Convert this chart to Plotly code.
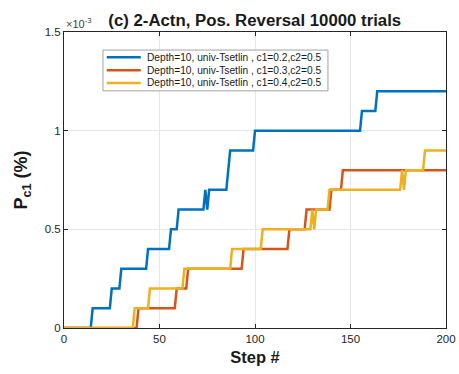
import plotly.graph_objects as go

# Detection probability P_c1 (in units of 1e-3) versus step, one series per c1 setting.
# Each list gives the vertices of the trace; values hold between listed steps.
steps_c1_02 = [0, 14, 15, 24, 25, 29, 30, 43, 44, 55, 56, 59, 60, 73, 74, 75, 76, 85, 87, 99, 100, 155, 156, 163, 164, 200]
pc1_c1_02 = [0, 0, 0.1, 0.1, 0.2, 0.2, 0.3, 0.3, 0.4, 0.4, 0.5, 0.5, 0.6, 0.6, 0.7, 0.6, 0.7, 0.7, 0.9, 0.9, 1.0, 1.0, 1.1, 1.1, 1.2, 1.2]

steps_c1_03 = [0, 38, 39, 58, 59, 64, 65, 93, 94, 117, 118, 126, 127, 139, 140, 145, 146, 200]
pc1_c1_03 = [0, 0, 0.1, 0.1, 0.2, 0.2, 0.3, 0.3, 0.4, 0.4, 0.5, 0.5, 0.6, 0.6, 0.7, 0.7, 0.8, 0.8]

steps_c1_04 = [0, 36, 37, 44, 45, 62, 63, 87, 88, 103, 104, 129, 130, 131, 132, 138, 139, 176, 177, 178, 179, 188, 189, 200]
pc1_c1_04 = [0, 0, 0.1, 0.1, 0.2, 0.2, 0.3, 0.3, 0.4, 0.4, 0.5, 0.5, 0.6, 0.5, 0.6, 0.6, 0.7, 0.7, 0.8, 0.7, 0.8, 0.8, 0.9, 0.9]

series_names = [
    "Depth=10, univ-Tsetlin , c1=0.2,c2=0.5",
    "Depth=10, univ-Tsetlin , c1=0.3,c2=0.5",
    "Depth=10, univ-Tsetlin , c1=0.4,c2=0.5",
]
colors = ["#0072BD", "#D95319", "#EDB120"]

x_ticks = [0, 50, 100, 150, 200]
y_ticks = [0, 0.5, 1, 1.5]
y_tick_text = ["0", "0.5", "1", "1.5"]

FONT = "Liberation Sans, Arial, Helvetica, sans-serif"

fig = go.Figure()
for xs, ys, name, col in zip(
    [steps_c1_02, steps_c1_03, steps_c1_04],
    [pc1_c1_02, pc1_c1_03, pc1_c1_04],
    series_names,
    colors,
):
    fig.add_trace(go.Scatter(x=xs, y=ys, mode="lines", name=name,
                             line=dict(color=col, width=2.5), showlegend=False))

axis_common = dict(
    showline=True, linecolor="#262626", linewidth=1, mirror="ticks",
    ticks="inside", ticklen=4, tickcolor="#262626",
    showgrid=True, gridcolor="#e6e6e6", gridwidth=1,
    zeroline=False, automargin=False,
    tickfont=dict(family=FONT, size=11.5, color="#262626"),
)

fig.update_layout(
    width=459, height=374,
    margin=dict(l=64, r=13, t=32, b=46),
    paper_bgcolor="white", plot_bgcolor="white",
    font=dict(family=FONT, color="#262626"),
    title=dict(text="<b>(c) 2-Actn, Pos. Reversal 10000 trials</b>",
               x=0.555, xanchor="center", y=0.945, yanchor="middle",
               font=dict(family=FONT, size=16.8, color="#1a1a1a")),
    xaxis=dict(range=[0, 200], tickvals=x_ticks,
               title=dict(text="<b>Step #</b>", standoff=7,
                          font=dict(family=FONT, size=16.5, color="#1a1a1a")),
               **axis_common),
    yaxis=dict(range=[0, 1.5], tickvals=y_ticks, ticktext=y_tick_text,
               title=dict(text="<b>P<sub>c1</sub> (%)</b>", standoff=12,
                          font=dict(family=FONT, size=18, color="#1a1a1a")),
               **axis_common),
    showlegend=False,
)

# exponent label above the y axis
fig.add_annotation(text="×10<sup>-3</sup>", xref="paper", yref="paper",
                   x=0.0, y=1.0, xanchor="left", yanchor="bottom",
                   showarrow=False, yshift=0,
                   font=dict(family=FONT, size=11, color="#444444"))

# legend box drawn in paper coordinates
lg_x0, lg_x1, lg_top, lg_bot = 0.102, 0.691, 0.939, 0.801
fig.add_shape(type="rect", xref="paper", yref="paper",
              x0=lg_x0, x1=lg_x1, y0=lg_bot, y1=lg_top,
              line=dict(color="#a0a0a0", width=1), fillcolor="white", layer="above")
row_y = [0.915, 0.871, 0.828]
for ry, name, col in zip(row_y, series_names, colors):
    fig.add_shape(type="line", xref="paper", yref="paper",
                  x0=0.112, x1=0.201, y0=ry, y1=ry,
                  line=dict(color=col, width=2.5), layer="above")
    fig.add_annotation(text=name, xref="paper", yref="paper",
                       x=0.211, y=ry, xanchor="left", yanchor="middle",
                       showarrow=False,
                       font=dict(family=FONT, size=10.2, color="#1a1a1a"))

fig.write_html("out.html")
